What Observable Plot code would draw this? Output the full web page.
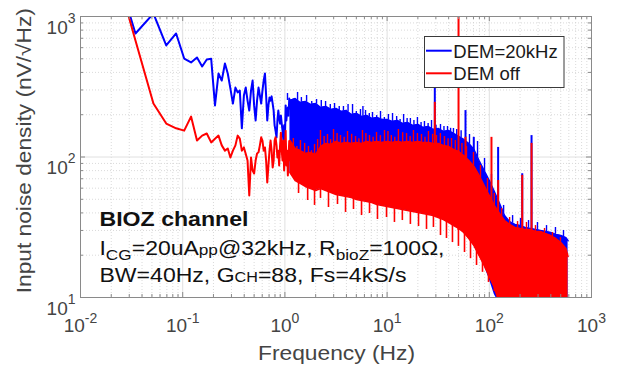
<!DOCTYPE html>
<html><head><meta charset="utf-8">
<script src="https://cdn.jsdelivr.net/npm/d3@7"></script>
<script src="https://cdn.jsdelivr.net/npm/@observablehq/plot@0.6"></script>
<style>
html,body{margin:0;padding:0;background:#fff;}
#chart{width:620px;height:368px;}
svg{display:block;}
</style></head><body><div id="chart"></div>
<script>
// ---- Data ----
// Low-frequency part: individual spectral bins (Hz) and noise density (nV/rtHz)
const sparseFreq = [0.0172,0.0345,0.0517,0.069,0.0862,0.1034,0.1207,0.138,0.155,0.172,0.19,0.207,0.224,0.241,0.259,0.276,0.293,0.31,0.328,0.345,0.362,0.379,0.397,0.414,0.431,0.448,0.466,0.483,0.5,0.517,0.534,0.552,0.569,0.586,0.603,0.62,0.638,0.655,0.672,0.69,0.707,0.724,0.741,0.759,0.776,0.793,0.81,0.828,0.845,0.862,0.879,0.897,0.914,0.931,0.948,0.966,0.983,1.0,1.017,1.034,1.052,1.069,1.086,1.103,1.121,1.138];
const sparseDEM20k = [4000,757,1050,622,757,502,471,511,441,494,500,233,393,350,463,393,307,240,312,288,297,160,274,312,252,214,297,350,233,182,252,312,274,240,297,350,393,274,182,233,265,252,270,240,214,168,154,138,182,214,188,173,197,173,154,131,168,131,233,182,214,225,197,261,221,252];
const sparseDEMoff = [4100,674,240,173,160,154,194,131,142,147,127,135,142,121,111,115,99.2,111,121,142,135,111,117,105,94.4,53.2,99.2,80.2,76.3,94.4,106,108,121,138,131,111,117,94.4,65.8,87,111,131,111,84.2,94.4,131,138,121,99.2,111,87,121,149,111,94.4,131,80.2,111,154,87,111,73.8,102.5,130,95,120];

// High-frequency part: dense spectrum, read as lower/upper core envelope per frequency
const bandFreq = [1.12,1.26,1.41,1.58,1.78,2,2.24,2.51,2.82,3.16,3.55,3.98,4.47,5.01,5.62,6.31,7.08,7.94,8.91,10,11.2,12.6,14.1,15.8,17.8,20,22.4,25.1,28.2,31.6,35.5,39.8,44.7,50.1,56.2,63.1,70.8,79.4,89.1,100,112,126,141,158,178,200,224,251,282,316,355,398,447,501,562,590];
const bandDEM20kHi = [252.5,260.8,244.3,248.3,236.4,240.4,225.1,228.8,217.8,221.4,210.8,214.3,200.7,204,194.2,197.4,187.9,191.1,184.9,184.9,178.9,181.9,173.2,176,167.6,170.4,162.2,164.9,157,159.6,151.9,154.4,147,139.9,133.2,124.8,113.1,94.4,80.1,68,56.8,46.7,38.3,34.7,33.1,32.5,31.5,31,30.5,30,29.5,29,28.1,27.6,26.7,25.4];
const bandDEM20kLo = [77.6,68,64.8,61.7,59.7,57.8,59.7,57.8,55.9,54.1,53.2,52.3,51.5,49.8,49,48.2,47.4,45.9,45.2,44.4,43.7,43,42.3,41.6,40.9,40.3,39.6,39,38.3,37.1,35.9,34.2,32.5,31,29,26.3,23.4,19.9,16.9,13.5,10.5,9,9,9,9,9,9,9,9,9,9,9,9,9,9,9];
const bandDEMoffHi = [131,115,111.2,105.9,107.7,104.2,118.8,124.8,122.7,128.9,124.8,126.8,124.8,126.8,124.8,128.9,126.8,128.9,126.8,128.9,126.8,128.9,126.8,128.9,126.8,128.9,126.8,126.8,124.8,124.8,120.8,118.8,113.1,109.4,102.5,94.4,85.6,73.9,62.7,53.2,45.2,39.6,35.3,33.1,31.5,31,30.5,30.5,29.5,29.5,28.5,27.6,26.3,24.6,22.3,19.6];
const bandDEMoffLo = [77.6,68,64.8,61.7,59.7,57.8,59.7,57.8,55.9,54.1,53.2,52.3,51.5,49.8,49,48.2,47.4,45.9,45.2,44.4,43.7,43,42.3,41.6,40.9,40.3,39.6,39,38.3,37.1,35.9,34.2,32.5,31,29,26.3,23.4,19.9,16.9,14.1,11.8,9,9,9,9,9,9,9,9,9,9,9,9,9,9,9];

// Noise peaks sticking out of the dense spectrum
const peakFreqDEM20k = [1.06,1.33,1.45,1.63,1.83,2.04,2.27,2.5,2.78,3.06,3.4,3.74,4.15,4.59,5.0,5.49,5.8,6.15,6.7,7.2,7.9,8.62,9.4,10.3,11.3,12.4,13.4,14.5,15.7,16.9,18.3,19.8,21.5,23.2,25.2,27.2,30.1,33.3,36,39,41.8,44.6,48,53,64,76.7,89.8,105,138,169,202,242,296,363,444,532];
const peakTopDEM20k  = [283,288,265,274,248,256.6,252,248.3,236,240.4,229,228.8,236,236.4,211,217.8,229,214.3,204,207.4,197,210.8,191,200.7,204,194.2,185,200.7,188,187.9,182,191.1,176,178.9,173,181.9,168,170.4,165,164.9,160,159.6,157,154,144.6,128.9,97.6,75.1,45.2,38.3,36.5,35.3,34.2,32.5,31.5,30];
const peakFreqDEMoff = [1.21,1.31,1.42,1.56,1.7,1.82,1.95,2.09,2.23,2.42,2.61,2.8,2.99,3.24,3.5,3.8,4.1,4.5,4.91,5.3,5.74,6.2,6.73,7.3,7.88,8.6,9.43,10.2,11,11.9,12.9,14.2,15.5,16.8,18.1,19.8,21.7,23.5,25.4,27.9,30.4,33.2,36.4,39.5,42.7,46.5,54,59.8,70,82,96,112,132,158,189,231,283,347,415,497];
const peakTopDEMoff  = [135.4,118.8,131,124.8,118.8,111,122.7,133,154.4,140,144.6,133,157,147,142.2,138,151.9,145,139.9,135,154.4,147,142.2,138,149.4,142,154.4,152,142.2,138,157,149,147,140,154.4,147,144.6,138,151.9,145,142.2,147,139.9,135,135.4,131,125,118.8,107.7,87,70.3,55,43,37.1,34.7,34.2,32.5,31,29,26.7];
const dipFreqDEMoff = [1.36,1.67,1.95,2.23,2.67,3.27,3.92,4.69,5.62,6.73,8.05,9.87,11.8,14.1,16.9,20.3,24.3,28.4,33.3,38.1,43.6,49.9,57.2,65.5,75,85.8,98.2,112];
const dipBottomDEMoff = [55,49,45.2,50.7,43.7,45.9,40.3,42.3,38.3,39.6,35.9,37.1,34.2,35.3,33.1,32,30.5,31.5,27.6,26.3,24.6,23.1,20.9,18.9,16.9,15.1,12.8,11];

// Interference tones (spikes)
const spikeFreqDEM20k = [29.3,58.5,70.5,122,210,259];
const spikeTopDEM20k  = [323,214,138,117,76,142];
const spikeBaseDEM20k = [40,30,25,12,10,10];
const spikeFreqDEMoff = [29.3,50,58.5,105,122,210,259];
const spikeTopDEMoff  = [245,2000,138,138,68,74,125];
const spikeBaseDEMoff = [40,30,30,15,10,10,10];

// Axis ticks
const decadesX = [0.01,0.1,1,10,100,1000];
const decadesY = [10,100,1000];
const seriesNames = ["DEM=20kHz","DEM off"];
const seriesColors = ["#0000ff","#ff0000"];

// ---- Layout ----
const W=620, H=368, mL=80, mR=29, mT=16, mB=71;
const innerW = W-mL-mR, innerH = H-mT-mB;
const mult = [2,3,4,5,6,7,8,9];
const minorX = decadesX.slice(0,-1).flatMap(d => mult.map(m => d*m));
const minorY = decadesY.slice(0,-1).flatMap(d => mult.map(m => d*m));

// envelope value at a frequency (log-log between the read points), used as the foot of a peak
function envAt(vals, f){
  let i = d3.bisectRight(bandFreq, f) - 1;
  i = Math.max(0, Math.min(bandFreq.length-2, i));
  let t = (Math.log10(f)-Math.log10(bandFreq[i]))/(Math.log10(bandFreq[i+1])-Math.log10(bandFreq[i]));
  t = Math.max(0, Math.min(1, t));
  return Math.pow(10, Math.log10(vals[i])*(1-t) + Math.log10(vals[i+1])*t);
}

const sparse = sparseFreq.map((f,i)=>({f, blue: sparseDEM20k[i], red: sparseDEMoff[i]}));
const band = bandFreq.map((f,i)=>({f, bh: bandDEM20kHi[i], bl: bandDEM20kLo[i], rh: bandDEMoffHi[i], rl: bandDEMoffLo[i]}));
const peaksB = peakFreqDEM20k.map((f,i)=>({f, top: peakTopDEM20k[i], base: envAt(bandDEM20kHi, f)}));
const peaksR = peakFreqDEMoff.map((f,i)=>({f, top: peakTopDEMoff[i], base: envAt(bandDEMoffHi, f)}));
const dipsR = dipFreqDEMoff.map((f,i)=>({f, bottom: dipBottomDEMoff[i], base: envAt(bandDEMoffLo, f)}));
const spikesB = spikeFreqDEM20k.map((f,i)=>({f, top: spikeTopDEM20k[i], base: spikeBaseDEM20k[i]}));
const spikesR = spikeFreqDEMoff.map((f,i)=>({f, top: spikeTopDEMoff[i], base: spikeBaseDEMoff[i]}));

const axisCol = "#8a8a8a";
const textCol = "#444444";
const [blue, red] = seriesColors;

const plot = Plot.plot({
  width: W, height: H,
  marginLeft: mL, marginRight: mR, marginTop: mT, marginBottom: mB,
  style: {fontFamily: "'Liberation Sans', Arial, sans-serif", background: "#fff", overflow: "visible"},
  x: {type: "log", domain: [0.01, 1000]},
  y: {type: "log", domain: [10, 1000]},
  marks: [
    Plot.gridX(minorX, {stroke: "#d0d0d0", strokeOpacity: 1, strokeDasharray: "1,2", strokeWidth: 0.8}),
    Plot.gridY(minorY, {stroke: "#d0d0d0", strokeOpacity: 1, strokeDasharray: "1,2", strokeWidth: 0.8}),
    Plot.gridX(decadesX, {stroke: "#e0e0e0", strokeOpacity: 1}),
    Plot.gridY(decadesY, {stroke: "#e0e0e0", strokeOpacity: 1}),
    // DEM = 20 kHz
    Plot.areaY(band, {x: "f", y1: "bl", y2: "bh", fill: blue, clip: true}),
    Plot.line(band, {x: "f", y: "bh", stroke: blue, strokeWidth: 1.5, clip: true}),
    Plot.ruleX(peaksB, {x: "f", y1: "base", y2: "top", stroke: blue, strokeWidth: 1.4, clip: true}),
    Plot.line(sparse, {x: "f", y: "blue", stroke: blue, strokeWidth: 2, clip: true}),
    Plot.ruleX(spikesB, {x: "f", y1: "base", y2: "top", stroke: blue, strokeWidth: 2, clip: true}),
    // DEM off
    Plot.areaY(band, {x: "f", y1: "rl", y2: "rh", fill: red, clip: true}),
    Plot.line(band, {x: "f", y: "rh", stroke: red, strokeWidth: 1.5, clip: true}),
    Plot.line(band, {x: "f", y: "rl", stroke: red, strokeWidth: 1.5, clip: true}),
    Plot.ruleX(peaksR, {x: "f", y1: "base", y2: "top", stroke: red, strokeWidth: 1.4, clip: true}),
    Plot.ruleX(dipsR, {x: "f", y1: "bottom", y2: "base", stroke: red, strokeWidth: 1.6, clip: true}),
    Plot.line(sparse, {x: "f", y: "red", stroke: red, strokeWidth: 2, clip: true}),
    Plot.ruleX(spikesR, {x: "f", y1: "base", y2: "top", stroke: red, strokeWidth: 2, clip: true}),
    // box + inward ticks
    Plot.frame({stroke: axisCol}),
    Plot.tickX(decadesX, {x: d => d, insetTop: innerH-5, stroke: axisCol}),
    Plot.tickX(decadesX, {x: d => d, insetBottom: innerH-5, stroke: axisCol}),
    Plot.tickX(minorX, {x: d => d, insetTop: innerH-3, stroke: axisCol}),
    Plot.tickX(minorX, {x: d => d, insetBottom: innerH-3, stroke: axisCol}),
    Plot.tickY(decadesY, {y: d => d, insetRight: innerW-5, stroke: axisCol}),
    Plot.tickY(decadesY, {y: d => d, insetLeft: innerW-5, stroke: axisCol}),
    Plot.tickY(minorY, {y: d => d, insetRight: innerW-3, stroke: axisCol}),
    Plot.tickY(minorY, {y: d => d, insetLeft: innerW-3, stroke: axisCol}),
    Plot.axisX(decadesX, {tickSize: 0, tickPadding: 21, fontSize: 19, label: null,
      tickFormat: d => String(Math.round(Math.log10(d)))}),
    Plot.axisY(decadesY, {tickSize: 0, tickPadding: 5, fontSize: 19, label: null,
      tickFormat: d => String(Math.round(Math.log10(d)))})
  ]
});
document.getElementById("chart").appendChild(plot);

const svg = d3.select(plot);
// Powers of ten as 10 + superscript
function sup(sel, shift, size){
  sel.each(function(){
    const t = d3.select(this);
    const e = t.text().replace("\u2212","-");
    t.text("").attr("fill", textCol);
    t.append("tspan").text("10");
    t.append("tspan").attr("font-size", size).attr("dy", shift).text(e);
  });
}
sup(svg.selectAll('g[aria-label="x-axis tick label"] text'), -9, 14);
svg.selectAll('g[aria-label="y-axis tick label"] text').attr("dy", "0.58em");
sup(svg.selectAll('g[aria-label="y-axis tick label"] text'), -11, 14);

const font = "'Liberation Sans', Arial, sans-serif";
// Axis labels
svg.append("text").attr("x", 336.5).attr("y", 360).attr("text-anchor", "middle")
  .attr("font-family", font).attr("font-size", 20).attr("fill", textCol)
  .attr("textLength", 157).attr("lengthAdjust", "spacingAndGlyphs").text("Frequency (Hz)");
svg.append("text").attr("transform", "translate(30.5,150.7) rotate(-90)").attr("text-anchor", "middle")
  .attr("font-family", font).attr("font-size", 20).attr("fill", textCol)
  .attr("textLength", 285).attr("lengthAdjust", "spacingAndGlyphs").text("Input noise density (nV/\u221AHz)");

// Annotation
const ann = svg.append("g").attr("font-family", font).attr("fill", "#111").attr("text-anchor", "start");
ann.append("text").attr("x", 99.5).attr("y", 225.7).attr("font-size", 20).attr("font-weight", "bold")
  .attr("textLength", 149).attr("lengthAdjust", "spacingAndGlyphs").text("BIOZ channel");
const l2 = ann.append("text").attr("x", 99.5).attr("y", 255).attr("font-size", 20)
  .attr("textLength", 345).attr("lengthAdjust", "spacingAndGlyphs");
l2.append("tspan").text("I");
l2.append("tspan").attr("font-size", 15).attr("dy", 5).text("CG");
l2.append("tspan").attr("dy", -5).text("=20uA");
l2.append("tspan").attr("font-size", 15).text("pp");
l2.append("tspan").text("@32kHz, R");
l2.append("tspan").attr("font-size", 15).attr("dy", 5).text("bioZ");
l2.append("tspan").attr("dy", -5).text("=100\u03A9,");
const l3 = ann.append("text").attr("x", 99.5).attr("y", 281.7).attr("font-size", 20)
  .attr("textLength", 307).attr("lengthAdjust", "spacingAndGlyphs");
l3.append("tspan").text("BW=40Hz, G");
l3.append("tspan").attr("font-size", 14).text("CH");
l3.append("tspan").text("=88, Fs=4kS/s");

// Legend
const lg = svg.append("g").attr("font-family", font).attr("text-anchor", "start");
lg.append("rect").attr("x", 424.5).attr("y", 36.5).attr("width", 139.5).attr("height", 51)
  .attr("fill", "#fff").attr("stroke", "#3a3a3a").attr("stroke-width", 1);
seriesNames.forEach((name, i) => {
  const cy = 50.7 + i*22.6;
  lg.append("line").attr("x1", 426).attr("x2", 451.7).attr("y1", cy).attr("y2", cy)
    .attr("stroke", seriesColors[i]).attr("stroke-width", 2);
  lg.append("text").attr("x", 453.3).attr("y", cy + 6.8).attr("font-size", 18.5).attr("fill", "#1a1a1a").text(name);
});
</script>
</body></html>
